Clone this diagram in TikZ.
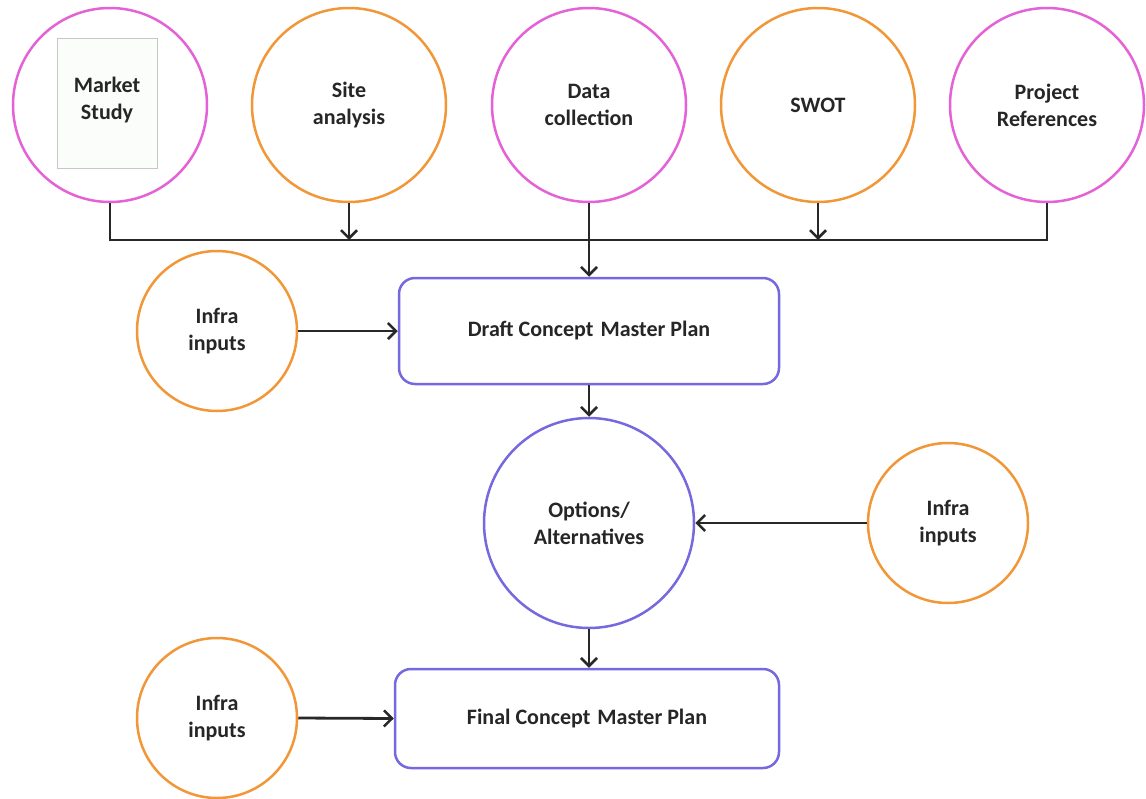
\documentclass[tikz,border=0pt]{standalone}
\usepackage{fontspec}
\setmainfont{Carlito}
\usetikzlibrary{arrows.meta,calc}
\definecolor{cpink}{RGB}{228,98,214}
\definecolor{corange}{RGB}{241,151,55}
\definecolor{cpurple}{RGB}{118,104,222}
\definecolor{cline}{RGB}{40,40,40}
\definecolor{rectfill}{RGB}{250,253,250}
\begin{document}
\begin{tikzpicture}[x=1pt,y=-1pt,
  lbl/.style={font=\fontsize{22}{27}\selectfont\bfseries, text=black!85, align=center},
  circ/.style={circle, draw, line width=2.5pt, inner sep=0pt, lbl},
  pinkc/.style={circ, draw=cpink, minimum size=194pt},
  orangec/.style={circ, draw=corange, minimum size=194pt},
  infrac/.style={circ, draw=corange, minimum size=160pt},
  boxs/.style={draw=cpurple, line width=2.5pt, rounded corners=16pt, lbl, inner sep=0pt},
  conn/.style={draw=cline, line width=2.8pt},
  arr/.style={conn, -{Straight Barb[length=8pt,width=16pt,line width=2.5pt]}}
]
\useasboundingbox (0,0) rectangle (1146,798);
\fill[white] (0,0) rectangle (1146,798);
% top row
\node[pinkc] (market) at (110,105) {};
\node[draw=black!22, fill=rectfill, line width=1pt, minimum width=100pt, minimum height=130pt, inner sep=0pt] (mrect) at (107,103) {};
\node[lbl] (mtext) at (107,100) {Market\\Study};
\node[orangec] (site) at (349,105) {Site\\analysis};
\node[pinkc] (data) at (589,105) {Data\\collection};
\node[orangec] (swot) at (818,105) {SWOT};
\node[pinkc] (proj) at (1047,105) {Project\\References};
% middle
\node[boxs, minimum width=380pt, minimum height=106pt] (draft) at (589,331) {Draft Concept\hspace{2pt} Master Plan};
\node[infrac] (infra1) at (217,331) {Infra\\inputs};
\node[circ, draw=cpurple, minimum size=210pt] (opt) at (589,523) {Options/\\Alternatives};
\node[infrac] (infra2) at (948,523) {Infra\\inputs};
\node[boxs, minimum width=384pt, minimum height=99pt] (final) at (587,718.5) {Final Concept\hspace{2pt} Master Plan};
\node[infrac] (infra3) at (217,718) {Infra\\inputs};
% bus
\coordinate (busL) at (market.south |- 0,240);
\coordinate (busR) at (proj.south |- 0,240);
\coordinate (busS) at (site.south |- 0,240);
\coordinate (busW) at (swot.south |- 0,240);
\draw[conn] (market.south) -- (busL) -- (busR) -- (proj.south);
\draw[arr] (site.south) -- (busS);
\draw[arr] (swot.south) -- (busW);
\draw[arr] (data.south) -- (draft.north);
\draw[arr] (infra1.east) -- (draft.west);
\draw[arr] (draft.south) -- (opt.north);
\draw[arr] (infra2.west) -- (opt.east);
\draw[arr] (opt.south) -- (opt.south |- final.north);
\draw[arr] (infra3.east) -- (final.west);
\end{tikzpicture}
\end{document}
